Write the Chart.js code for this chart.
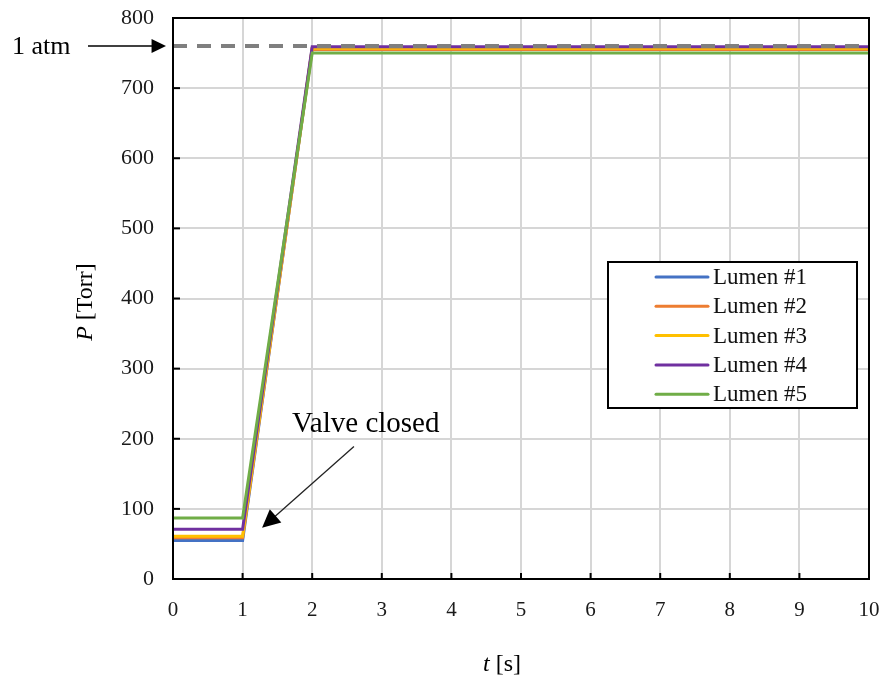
<!DOCTYPE html>
<html>
<head>
<meta charset="utf-8">
<script src="https://cdn.jsdelivr.net/npm/chart.js@4"></script>
<style>
  body { margin: 0; background: #fff; }
  #wrap { width: 885px; height: 684px; }
</style>
</head>
<body>
<div id="wrap"><canvas id="chart" width="885" height="684"></canvas></div>
<script>
// time points [s]
const times = [0, 1, 2, 10];
// pressures [Torr] per lumen
const lumen1 = [55, 55, 757, 757];
const lumen2 = [59, 59, 755, 755];
const lumen3 = [61, 61, 757, 757];
const lumen4 = [71, 71, 759, 759];
const lumen5 = [87, 87, 750, 750];
const atmTimes = [0, 10];
const atm = [760, 760];

const labels = ["Lumen #1", "Lumen #2", "Lumen #3", "Lumen #4", "Lumen #5"];
const colors = ["#4472C4", "#ED7D31", "#FFC000", "#7030A0", "#70AD47"];
const series = [lumen1, lumen2, lumen3, lumen4, lumen5];

const serif = "'Liberation Serif', 'Times New Roman', serif";

const datasets = series.map((s, i) => ({
    label: labels[i],
    data: s.map((v, k) => ({ x: times[k], y: v })),
    borderColor: colors[i],
    borderWidth: 3,
    pointRadius: 0,
    order: 6 - i
}));
datasets.push({
    label: "1 atm",
    data: atm.map((v, k) => ({ x: atmTimes[k], y: v })),
    borderColor: "#7F7F7F",
    borderWidth: 4,
    borderDash: [14, 10],
    pointRadius: 0,
    order: 0
});

function arrow(ctx, x1, y1, x2, y2, head) {
    const a = Math.atan2(y2 - y1, x2 - x1);
    ctx.beginPath();
    ctx.moveTo(x1, y1);
    ctx.lineTo(x2 - Math.cos(a) * head * 0.8, y2 - Math.sin(a) * head * 0.8);
    ctx.stroke();
    ctx.beginPath();
    ctx.moveTo(x2, y2);
    ctx.lineTo(x2 - head * Math.cos(a - 0.45), y2 - head * Math.sin(a - 0.45));
    ctx.lineTo(x2 - head * Math.cos(a + 0.45), y2 - head * Math.sin(a + 0.45));
    ctx.closePath();
    ctx.fill();
}

// mixed italic/roman text, centred at (cx, cy)
function mixedText(ctx, parts, cx, cy, size) {
    let w = 0;
    parts.forEach(p => { ctx.font = (p[1] ? "italic " : "") + size + "px " + serif; w += ctx.measureText(p[0]).width; });
    let x0 = cx - w / 2;
    ctx.textAlign = "left";
    ctx.textBaseline = "middle";
    parts.forEach(p => {
        ctx.font = (p[1] ? "italic " : "") + size + "px " + serif;
        ctx.fillText(p[0], x0, cy);
        x0 += ctx.measureText(p[0]).width;
    });
}

// frame, ticks, titles, annotations, legend
const extras = {
    id: "extras",
    afterDraw(chart) {
        const { ctx, chartArea: a, scales: { x, y } } = chart;
        ctx.save();

        // inner tick marks
        ctx.strokeStyle = "#000";
        ctx.lineWidth = 2;
        x.ticks.forEach(t => {
            const px = x.getPixelForValue(t.value);
            ctx.beginPath(); ctx.moveTo(px, a.bottom); ctx.lineTo(px, a.bottom - 6); ctx.stroke();
        });
        y.ticks.forEach(t => {
            const py = y.getPixelForValue(t.value);
            ctx.beginPath(); ctx.moveTo(a.left, py); ctx.lineTo(a.left + 7, py); ctx.stroke();
        });

        // plot frame
        ctx.strokeRect(a.left, a.top, a.right - a.left, a.bottom - a.top);

        // axis titles
        ctx.fillStyle = "#000";
        mixedText(ctx, [["t", true], [" [s]", false]], 502, 665, 24);
        ctx.save();
        ctx.translate(86, 302);
        ctx.rotate(-Math.PI / 2);
        mixedText(ctx, [["P", true], [" [Torr]", false]], 0, 0, 24);
        ctx.restore();

        // 1 atm annotation
        const yAtm = y.getPixelForValue(760);
        ctx.font = "26px " + serif;
        ctx.textAlign = "left";
        ctx.textBaseline = "middle";
        ctx.fillText("1 atm", 12, yAtm + 1);
        ctx.lineWidth = 1.5;
        ctx.strokeStyle = "#000";
        arrow(ctx, 88, yAtm, a.left - 7, yAtm, 16);

        // valve closed annotation
        ctx.font = "29px " + serif;
        ctx.textAlign = "center";
        ctx.fillText("Valve closed", x.getPixelForValue(2.77), y.getPixelForValue(221));
        ctx.strokeStyle = "#222";
        ctx.fillStyle = "#000";
        ctx.lineWidth = 1.3;
        arrow(ctx, x.getPixelForValue(2.6), y.getPixelForValue(189),
              x.getPixelForValue(1.28), y.getPixelForValue(73), 20);

        // legend box
        const lx = 608, ly = 262, lw = 249, lh = 146;
        ctx.fillStyle = "#fff";
        ctx.fillRect(lx, ly, lw, lh);
        ctx.strokeStyle = "#000";
        ctx.lineWidth = 2;
        ctx.strokeRect(lx, ly, lw, lh);
        ctx.font = "23px " + serif;
        ctx.textAlign = "left";
        labels.forEach((lab, i) => {
            const yy = ly + 15 + i * 29.3;
            ctx.strokeStyle = colors[i];
            ctx.lineWidth = 3;
            ctx.lineCap = "round";
            ctx.beginPath(); ctx.moveTo(lx + 48, yy); ctx.lineTo(lx + 100, yy); ctx.stroke();
            ctx.fillStyle = "#111";
            ctx.fillText(lab, lx + 105, yy + 1);
        });
        ctx.restore();
    }
};

new Chart(document.getElementById("chart"), {
    type: "line",
    data: { datasets },
    options: {
        responsive: false,
        animation: false,
        layout: { padding: { left: 0, top: 18, right: 16, bottom: 0 } },
        plugins: { legend: { display: false }, tooltip: { enabled: false } },
        scales: {
            x: {
                type: "linear",
                min: 0, max: 10,
                ticks: { stepSize: 1, padding: 19, color: "#1a1a1a", font: { family: serif, size: 21 } },
                grid: { color: "#D6D6D6", lineWidth: 2, tickLength: 0 },
                border: { display: false },
                afterFit(s) { s.height = 105; s.paddingLeft = 0; s.paddingRight = 0; }
            },
            y: {
                min: 0, max: 800,
                ticks: { stepSize: 100, padding: 19, color: "#1a1a1a", font: { family: serif, size: 22 } },
                grid: { color: "#D6D6D6", lineWidth: 2, tickLength: 0 },
                border: { display: false },
                afterFit(s) { s.width = 173; s.paddingTop = 0; s.paddingBottom = 0; }
            }
        }
    },
    plugins: [extras]
});
</script>
</body>
</html>
